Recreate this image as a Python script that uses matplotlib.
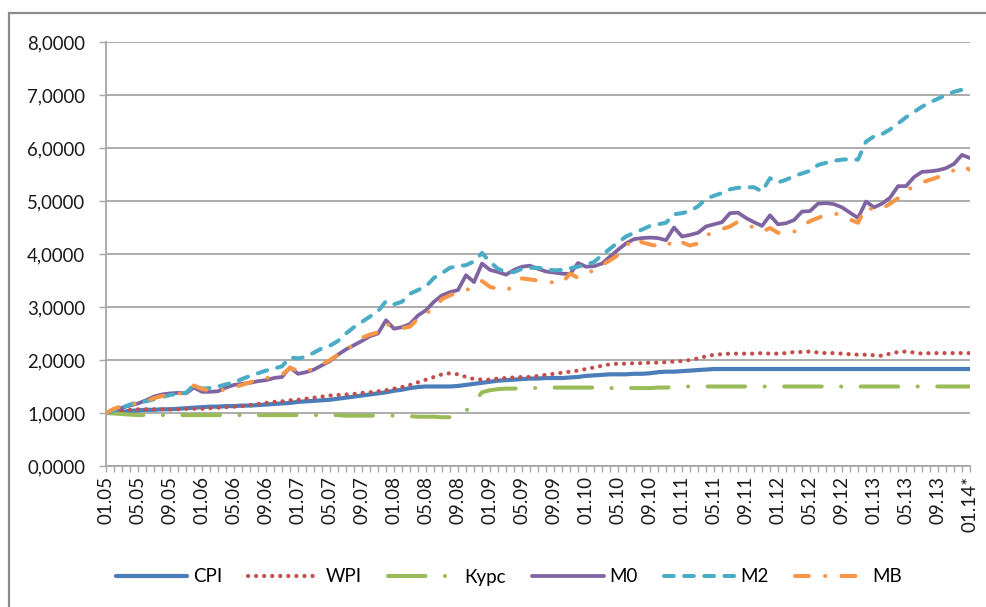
import matplotlib
matplotlib.use("Agg")
import matplotlib.pyplot as plt
from matplotlib.patches import Rectangle
import numpy as np

plt.rcParams['font.family'] = ['Lato', 'DejaVu Sans']
plt.rcParams['lines.scale_dashes'] = False

x_labels = ['01.05', '05.05', '09.05', '01.06', '05.06', '09.06', '01.07', '05.07', '09.07',
            '01.08', '05.08', '09.08', '01.09', '05.09', '09.09', '01.10', '05.10', '09.10',
            '01.11', '05.11', '09.11', '01.12', '05.12', '09.12', '01.13', '05.13', '09.13', '01.14*']
y_ticks = [0, 1, 2, 3, 4, 5, 6, 7, 8]

cpi = [1.00, 1.01, 1.02, 1.04, 1.05, 1.06, 1.06, 1.07, 1.07, 1.08, 1.09, 1.10, 1.11,
       1.12, 1.12, 1.13, 1.13, 1.14, 1.14, 1.15, 1.16, 1.17, 1.18, 1.19, 1.21,
       1.22, 1.23, 1.24, 1.25, 1.27, 1.29, 1.31, 1.33, 1.35, 1.37, 1.39, 1.42,
       1.44, 1.47, 1.49, 1.50, 1.50, 1.50, 1.50, 1.51, 1.53, 1.55, 1.57, 1.59,
       1.61, 1.62, 1.63, 1.64, 1.65, 1.65, 1.66, 1.66, 1.66, 1.67, 1.68, 1.70,
       1.71, 1.72, 1.73, 1.73, 1.73, 1.74, 1.74, 1.75, 1.77, 1.78, 1.78, 1.79,
       1.80, 1.81, 1.82, 1.83, 1.83, 1.83, 1.83, 1.83, 1.83, 1.83, 1.83, 1.83,
       1.83, 1.83, 1.83, 1.83, 1.83, 1.83, 1.83, 1.83, 1.83, 1.83, 1.83, 1.83,
       1.83, 1.83, 1.83, 1.83, 1.83, 1.83, 1.83, 1.83, 1.83, 1.83, 1.83, 1.83]

wpi = [1.00, 1.03, 1.05, 1.06, 1.07, 1.07, 1.07, 1.07, 1.07, 1.07, 1.08, 1.08, 1.08,
       1.09, 1.10, 1.11, 1.12, 1.13, 1.15, 1.17, 1.19, 1.21, 1.22, 1.24, 1.25,
       1.27, 1.29, 1.31, 1.33, 1.34, 1.35, 1.36, 1.38, 1.39, 1.41, 1.43, 1.46,
       1.49, 1.53, 1.58, 1.63, 1.68, 1.73, 1.75, 1.73, 1.68, 1.64, 1.63, 1.63,
       1.65, 1.66, 1.67, 1.68, 1.68, 1.70, 1.72, 1.74, 1.76, 1.78, 1.80, 1.83,
       1.86, 1.89, 1.92, 1.93, 1.93, 1.94, 1.94, 1.95, 1.95, 1.96, 1.97, 1.98,
       2.00, 2.03, 2.07, 2.10, 2.11, 2.12, 2.12, 2.12, 2.12, 2.13, 2.12, 2.12,
       2.13, 2.15, 2.15, 2.16, 2.14, 2.13, 2.13, 2.12, 2.11, 2.10, 2.10, 2.09,
       2.08, 2.12, 2.15, 2.16, 2.14, 2.12, 2.13, 2.13, 2.13, 2.13, 2.13, 2.13]

kurs = [1.00, 0.99, 0.98, 0.97, 0.96, 0.96, 0.96, 0.96, 0.96, 0.96, 0.96, 0.96, 0.96,
        0.96, 0.96, 0.96, 0.96, 0.96, 0.96, 0.96, 0.96, 0.96, 0.96, 0.96, 0.96,
        0.96, 0.96, 0.96, 0.96, 0.96, 0.95, 0.95, 0.95, 0.95, 0.95, 0.95, 0.95,
        0.95, 0.94, 0.93, 0.93, 0.93, 0.92, 0.92, 0.95, 1.04, 1.20, 1.39, 1.43,
        1.45, 1.46, 1.46, 1.47, 1.47, 1.47, 1.48, 1.48, 1.48, 1.48, 1.48, 1.48,
        1.48, 1.47, 1.47, 1.47, 1.47, 1.47, 1.47, 1.47, 1.48, 1.48, 1.49, 1.50,
        1.50, 1.50, 1.50, 1.50, 1.50, 1.50, 1.50, 1.50, 1.50, 1.50, 1.50, 1.50,
        1.50, 1.50, 1.50, 1.50, 1.50, 1.50, 1.50, 1.50, 1.50, 1.50, 1.50, 1.50,
        1.50, 1.50, 1.50, 1.50, 1.50, 1.50, 1.50, 1.50, 1.50, 1.50, 1.50, 1.50]

m0 = [1.00, 1.05, 1.10, 1.14, 1.18, 1.24, 1.31, 1.35, 1.37, 1.38, 1.37, 1.48, 1.40,
      1.40, 1.41, 1.48, 1.53, 1.55, 1.57, 1.60, 1.62, 1.66, 1.68, 1.86, 1.74,
      1.77, 1.82, 1.90, 1.98, 2.10, 2.20, 2.28, 2.36, 2.45, 2.50, 2.75, 2.59,
      2.62, 2.68, 2.84, 2.94, 3.10, 3.22, 3.28, 3.32, 3.60, 3.47, 3.82, 3.70,
      3.66, 3.61, 3.70, 3.76, 3.78, 3.72, 3.67, 3.65, 3.63, 3.62, 3.83, 3.76,
      3.77, 3.82, 3.95, 4.08, 4.20, 4.28, 4.30, 4.31, 4.30, 4.26, 4.50, 4.33,
      4.36, 4.40, 4.52, 4.56, 4.60, 4.77, 4.78, 4.68, 4.60, 4.53, 4.73, 4.56,
      4.58, 4.64, 4.80, 4.81, 4.95, 4.96, 4.94, 4.88, 4.78, 4.68, 4.99, 4.88,
      4.95, 5.06, 5.28, 5.28, 5.45, 5.55, 5.56, 5.58, 5.62, 5.70, 5.87, 5.81]

m2 = [1.00, 1.04, 1.10, 1.16, 1.20, 1.22, 1.26, 1.30, 1.34, 1.36, 1.38, 1.53, 1.46,
      1.47, 1.50, 1.54, 1.58, 1.64, 1.70, 1.75, 1.80, 1.84, 1.88, 2.05, 2.03,
      2.06, 2.14, 2.22, 2.27, 2.36, 2.50, 2.62, 2.72, 2.82, 2.92, 3.11, 3.05,
      3.10, 3.25, 3.32, 3.39, 3.55, 3.64, 3.74, 3.77, 3.79, 3.86, 4.02, 3.85,
      3.72, 3.66, 3.66, 3.72, 3.74, 3.74, 3.72, 3.69, 3.70, 3.73, 3.76, 3.80,
      3.85, 3.98, 4.10, 4.22, 4.33, 4.40, 4.46, 4.53, 4.56, 4.59, 4.75, 4.77,
      4.81, 4.90, 5.04, 5.10, 5.15, 5.22, 5.25, 5.26, 5.26, 5.18, 5.43, 5.35,
      5.40, 5.47, 5.52, 5.57, 5.68, 5.72, 5.76, 5.78, 5.79, 5.78, 6.12, 6.22,
      6.26, 6.35, 6.46, 6.58, 6.68, 6.78, 6.86, 6.93, 7.00, 7.06, 7.10, 7.06]

mb = [1.00, 1.08, 1.13, 1.16, 1.18, 1.22, 1.28, 1.32, 1.34, 1.36, 1.40, 1.52, 1.45,
      1.43, 1.43, 1.44, 1.48, 1.53, 1.58, 1.63, 1.66, 1.68, 1.72, 1.85, 1.80,
      1.77, 1.86, 1.92, 2.00, 2.10, 2.18, 2.30, 2.42, 2.48, 2.52, 2.69, 2.60,
      2.60, 2.63, 2.78, 2.88, 2.97, 3.15, 3.22, 3.28, 3.31, 3.40, 3.49, 3.38,
      3.34, 3.31, 3.40, 3.54, 3.52, 3.50, 3.48, 3.46, 3.45, 3.63, 3.55, 3.62,
      3.70, 3.79, 3.88, 3.98, 4.15, 4.30, 4.22, 4.18, 4.15, 4.13, 4.28, 4.22,
      4.16, 4.20, 4.36, 4.40, 4.47, 4.52, 4.61, 4.55, 4.50, 4.42, 4.49, 4.40,
      4.38, 4.42, 4.53, 4.62, 4.68, 4.74, 4.77, 4.72, 4.65, 4.59, 4.89, 4.83,
      4.85, 4.95, 5.05, 5.20, 5.27, 5.35, 5.40, 5.45, 5.52, 5.58, 5.66, 5.59]

series_names = ['CPI', 'WPI', 'Курс', 'M0', 'M2', 'MB']

W, H = 986, 607
fig = plt.figure(figsize=(W / 100, H / 100), dpi=100)
fig.patch.set_facecolor('white')

# outer chart border
fig.patches.append(Rectangle((9 / W, -0.2), 1.2, 1 - 13 / H + 0.2, transform=fig.transFigure,
                             fill=False, edgecolor='#8C8C8C', linewidth=1.6))

ax = fig.add_axes([106 / W, 1 - 466 / H, (970 - 106) / W, (466 - 42) / H])

n = len(cpi)
x = np.arange(n)

styles = [
    dict(color='#4A7DBA', lw=3.0, ls='-'),
    dict(color='#C0504D', lw=3.0, ls=(0, (0.1, 5.7))),
    dict(color='#9BBB59', lw=2.9, ls=(0, (27, 14, 0.1, 14))),
    dict(color='#8064A2', lw=2.7, ls='-'),
    dict(color='#4BACC6', lw=2.9, ls=(0, (7, 7.5))),
    dict(color='#F79646', lw=2.9, ls=(0, (10, 11.7, 0.1, 11.7))),
]
data = [cpi, wpi, kurs, m0, m2, mb]
lines = {}
for k in [2, 1, 0, 4, 5, 3]:
    st = styles[k]
    ln, = ax.plot(x, data[k], color=st['color'], lw=st['lw'], linestyle=st['ls'],
                  dash_capstyle='round', solid_capstyle='round',
                  solid_joinstyle='round', label=series_names[k], zorder=3 + k)
    lines[k] = ln

ax.set_xlim(0, n - 1)
ax.set_ylim(0, 8)
ax.set_yticks(y_ticks)
ax.set_yticklabels([f"{v:.4f}".replace('.', ',') for v in y_ticks], fontsize=13.4, color='#1A1A1A')
ax.yaxis.grid(True, color='#A6A6A6', lw=1.3)
ax.set_axisbelow(True)

ax.set_xticks(x)
lab = [''] * n
for j, t in enumerate(x_labels):
    lab[j * 4] = t
ax.set_xticklabels(lab, rotation=90, fontsize=13.5, color='#1A1A1A')
ax.tick_params(axis='x', length=4, width=1, color='#A6A6A6', pad=3)
ax.tick_params(axis='y', length=5, width=1, color='#A6A6A6', pad=10)

for s in ['top', 'right']:
    ax.spines[s].set_visible(False)
for s in ['left', 'bottom']:
    ax.spines[s].set_color('#A6A6A6')
    ax.spines[s].set_linewidth(1.3)

handles = [lines[k] for k in range(6)]
fig.legend(handles, series_names, loc='center', bbox_to_anchor=(509 / W, 1 - 577 / H),
           ncol=6, frameon=False, fontsize=13.5, handlelength=3.8, handletextpad=0.3,
           columnspacing=1.4)

fig.savefig('out.png', dpi=100)
